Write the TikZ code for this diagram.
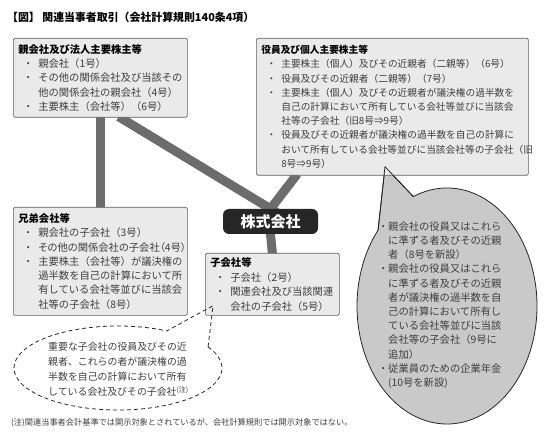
\documentclass[tikz,border=0pt]{standalone}
\usepackage{fontspec}
\setmainfont{Noto Sans CJK JP}
\usepackage{xcolor}
\usepackage{tikz}
\usetikzlibrary{calc,backgrounds}
\definecolor{figline}{RGB}{95,95,95}
\definecolor{figpanel}{RGB}{234,234,234}
\definecolor{figlink}{RGB}{108,108,108}
\definecolor{figbub}{RGB}{201,201,201}
\definecolor{figtext}{RGB}{62,62,62}
\definecolor{figdark}{RGB}{38,38,38}
\newcommand{\hd}[1]{{\bfseries\color{black}#1}}
\newcommand{\bl}[1][20bp]{\makebox[#1][c]{・}}
\newcommand{\ct}[1][20bp]{\hspace*{#1}}
\newcommand{\palt}{\addfontfeature{RawFeature=+palt}}
\tikzset{
  grp/.style    ={draw=figline, fill=figpanel, line width=0.7bp, rounded corners=1.5bp,
                  anchor=north west, align=left, inner xsep=5bp, inner ysep=0bp, text=figtext,
                  font=\fontsize{10.3bp}{14.3bp}\selectfont},
  link/.style   ={draw=figlink, line width=9bp},
  kabubox/.style={fill=figdark, rounded corners=6bp, text=white, inner sep=0bp,
                  minimum width=95bp, minimum height=25bp, font=\fontsize{15bp}{15bp}\selectfont\bfseries},
  bubble/.style ={draw=figdark, fill=figbub, line width=0.8bp},
  bubedge/.style={draw=figdark, line width=0.8bp},
  dashbub/.style={draw=figdark, line width=0.8bp, dash pattern=on 4bp off 3bp},
  bubtxt/.style ={anchor=west, align=left, inner sep=0bp, text=figtext,
                  font=\fontsize{10.3bp}{14.2bp}\selectfont},
  dshtxt/.style ={anchor=west, align=left, inner sep=0bp, text=figtext,
                  font=\fontsize{9.9bp}{15bp}\selectfont},
  ttl/.style    ={anchor=west, inner sep=0bp, font=\fontsize{10.9bp}{12bp}\selectfont\bfseries},
  notetxt/.style={anchor=west, inner sep=0bp, text=figtext, font=\fontsize{8.2bp}{10bp}\selectfont},
}
\begin{document}
\begin{tikzpicture}[x=1bp,y=-1bp]
  \useasboundingbox (0,0) rectangle (550,441);
  \node[ttl] (title) at (7,17) {【図】 関連当事者取引（会社計算規則140条4項）};
  % groups round the company
  \node[grp, text width=164bp, minimum height=79bp] (oya) at (13,38) {%
\hd{親会社及び法人主要株主等}\\
\bl 親会社（1号）\\
\bl その他の関係会社及び当該その\\
\ct 他の関係会社の親会社（4号）\\
\bl 主要株主（会社等）（6号）};
  \node[grp, text width=262bp, minimum height=137bp, font=\fontsize{9.7bp}{14.2bp}\selectfont] (yakuin) at (256,38) {%
\hd{役員及び個人主要株主等}\\
\bl 主要株主（個人）及びその近親者（二親等）（6号）\\
\bl 役員及びその近親者（二親等）（7号）\\
\bl 主要株主（個人）及びその近親者が議決権の過半数を\\
\ct 自己の計算において所有している会社等並びに当該会\\
\ct 社等の子会社（旧8号⇒9号）\\
\bl 役員及びその近親者が議決権の過半数を自己の計算に\\
\ct おいて所有している会社等並びに当該会社等の子会社（旧\\
\ct 8号⇒9号）};
  \node[grp, text width=164bp, minimum height=108bp] (kyodai) at (13,207) {%
\hd{兄弟会社等}\\
\bl 親会社の子会社（3号）\\
\bl {\palt その他の関係会社の子会社（4号）}\\
\bl 主要株主（会社等）が議決権の\\
\ct 過半数を自己の計算において所\\
\ct 有している会社等並びに当該会\\
\ct 社等の子会社（8号）};
  \node[grp, text width=124bp, minimum height=62bp, font=\fontsize{10.3bp}{14.6bp}\selectfont] (ko) at (205,253) {%
\hd{子会社等}\\
\bl 子会社（2号）\\
\bl 関連会社及び当該関連\\
\ct 会社の子会社（5号）};
  \node[kabubox] (kabu) at (270.5,221.5) {株式会社};
  % bubbles
  \coordinate (bub) at (447,306);
  \coordinate (bubtip) at ($(yakuin.south west)+(129,-9)$);
  \coordinate (dsh) at (118,368);
  \coordinate (dshtip) at ($(ko.south west)+(8,-10)$);
  \begin{scope}[on background layer]
    \draw[link, shorten <=-2bp, shorten >=-2bp] (oya.south) -- (kyodai.north);
    \draw[link, shorten <=-2bp, shorten >=-8bp] ([xshift=20bp]oya.south) -- (kabu.north);
    \draw[link, shorten <=-2bp, shorten >=-8bp] ([xshift=40bp]yakuin.south west) -- (kabu.north);
    \draw[link, shorten <=-2bp, shorten >=-2bp] (kabu.south) -- (ko.north);
    \path[bubble] (bubtip) -- ($(bub)+(248:90 and 118)$)
      arc[start angle=248, end angle=580, x radius=90, y radius=118] -- cycle;
  \end{scope}
  \draw[bubedge] (bubtip) -- ($(bub)+(248:90 and 118)$);
  \draw[bubedge] (bubtip) -- ($(bub)+(220:90 and 118)$);
  \draw[dashbub] ($(dsh)+(-30:104 and 42)$)
    arc[start angle=-30, end angle=298, x radius=104, y radius=42] -- (dshtip) -- cycle;
  \node[bubtxt] (bubtext) at (378,305) {%
\bl[10bp]親会社の役員又はこれら\\
\ct[10bp]に準ずる者及びその近親\\
\ct[10bp]者（8号を新設）\\
\bl[10bp]親会社の役員又はこれら\\
\ct[10bp]に準ずる者及びその近親\\
\ct[10bp]者が議決権の過半数を自\\
\ct[10bp]己の計算において所有し\\
\ct[10bp]ている会社等並びに当該\\
\ct[10bp]会社等の子会社（9号に\\
\ct[10bp]追加）\\
\bl[10bp]従業員のための企業年金\\
\ct[10bp](10号を新設)};
  \node[dshtxt] (dshtext) at (48,369.5) {%
重要な子会社の役員及びその近\\
親者、これらの者が議決権の過\\
半数を自己の計算において所有\\
している会社及びその子会社\textsuperscript{(注)}};
  \node[notetxt] (note) at (11,423) {(注)関連当事者会計基準では開示対象とされているが、会社計算規則では開示対象ではない。};
\end{tikzpicture}
\end{document}
